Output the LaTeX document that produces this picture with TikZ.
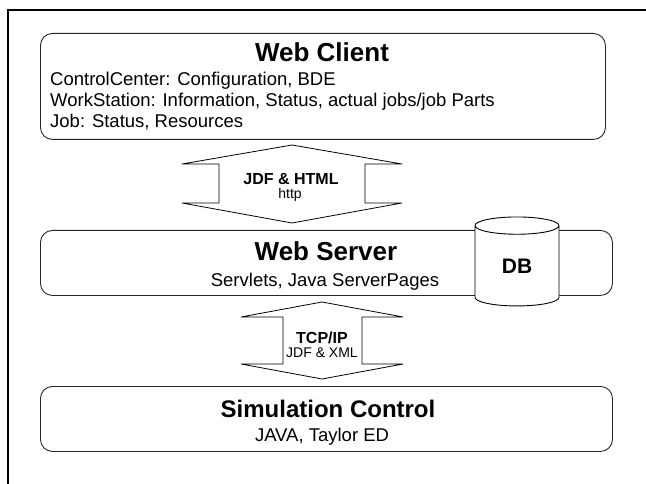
\documentclass[tikz,border=0pt]{standalone}
\usepackage{fontspec}
\setmainfont{Liberation Sans}
\usetikzlibrary{shapes.geometric}

\begin{document}
\begin{tikzpicture}
[x=1pt,y=-1pt,
  boxDecorate/.style={draw=black!85,line width=0.9pt,rounded corners=12pt,
    anchor=north west,inner sep=0pt},%
  titleDecorate/.style={anchor=base,inner sep=0pt,font=\bfseries\fontsize{26}{30}\selectfont},%
  textDecorate/.style={anchor=base,inner sep=0pt,font=\fontsize{18.5}{22}\selectfont},%
  labelDecorate/.style={anchor=base,inner sep=0pt,font=\bfseries\fontsize{16}{19}\selectfont},%
  smallDecorate/.style={anchor=base,inner sep=0pt,font=\fontsize{14}{17}\selectfont},%
  linkDecorate/.style={draw=black,line width=0.8pt,line join=miter},%
  dbDecorate/.style={cylinder,shape border rotate=90,aspect=0.57,draw=black,
    line width=0.9pt,fill=white,minimum width=84pt,minimum height=89pt,inner sep=0pt,
    font=\bfseries\fontsize{21}{24}\selectfont}]
\useasboundingbox (0,0) rectangle (646,484);
%% outer frame
\draw[line width=1.6pt] (8,10) rectangle (700,540);
%% boxes
\foreach \nodename/\x/\y/\w/\h in {
  client/40/33/565/106, server/40/230/572/65, sim/40/386/572/65}
{
  \node (\nodename) at (\x,\y) [boxDecorate,minimum width=\w pt,minimum height=\h pt] {};
}
%% titles and contents
\node (clientTitle) at (322,62) [titleDecorate] {Web Client};
\foreach \nodename/\y/\content in {
  ctrlLine/86/{ControlCenter: Configuration, BDE},
  wsLine/107/{WorkStation: Information, Status, actual jobs/job Parts},
  jobLine/128/{Job: Status, Resources}}
{
  \node (\nodename) at (50,\y) [textDecorate,anchor=base west] {\content};
}
\node (serverTitle) at (326,261) [titleDecorate] {Web Server};
\node (serverText) at (325,287) [textDecorate] {Servlets, Java ServerPages};
\node (simTitle) at (328,417) [titleDecorate,font=\bfseries\fontsize{24}{28}\selectfont] {Simulation Control};
\node (simText) at (322,441) [textDecorate] {JAVA, Taylor ED};
%% database
\node (db) at (517,266) [dbDecorate] {DB};
%% links between the layers
\coordinate (httpLink) at (292,184);
\coordinate (tcpLink) at (322,340.5);
\draw[linkDecorate,shift={(httpLink)}]
  (0,-39) -- (110,-20) -- (73,-20) -- (73,19) -- (110,19) -- (0,39)
  -- (-110,19) -- (-73,19) -- (-73,-20) -- (-110,-20) -- cycle;
\draw[linkDecorate,shift={(tcpLink)}]
  (0,-38.5) -- (81,-23.5) -- (40,-23.5) -- (40,23.5) -- (81,23.5) -- (0,38.5)
  -- (-81,23.5) -- (-39,23.5) -- (-39,-23.5) -- (-81,-23.5) -- cycle;
\node (jdfHtml) at (291,185) [labelDecorate] {JDF \& HTML};
\node (http) at (290,199) [smallDecorate] {http};
\node (tcpIp) at (322,343) [labelDecorate] {TCP/IP};
\node (jdfXml) at (322,357) [smallDecorate] {JDF \& XML};
\end{tikzpicture}
\end{document}
